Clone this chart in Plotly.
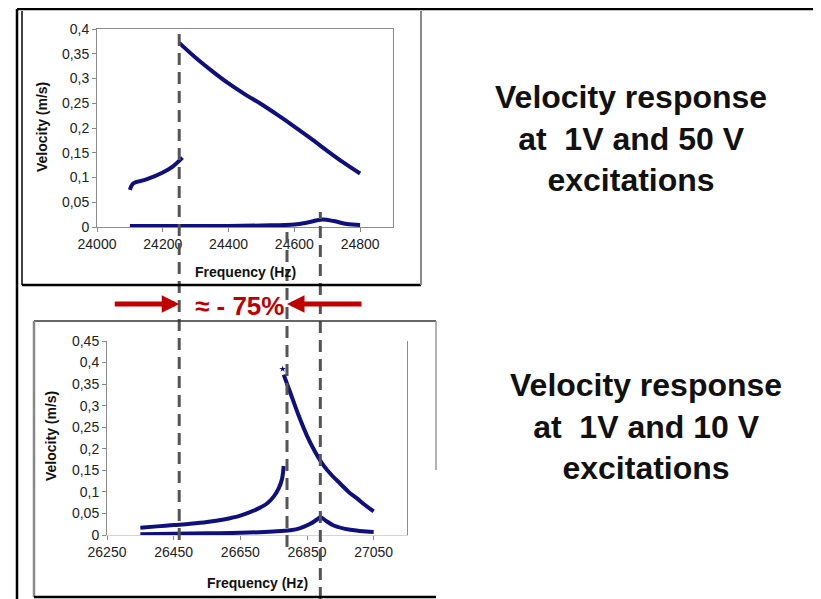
import plotly.graph_objects as go

W, H = 821, 599
OFF = 8  # the page body adds an 8 px margin around the figure
NAVY = "#10107c"
RED = "#c00000"
FONT = "Arial, Liberation Sans, sans-serif"

# top chart: response at 1 V and 50 V (frequency in Hz, velocity in m/s)
F_50V_LOW = [24100, 24110, 24150, 24200, 24230, 24260]
V_50V_LOW = [0.075, 0.088, 0.096, 0.110, 0.122, 0.140]
F_50V_HIGH = [24250, 24300, 24350, 24400, 24450, 24500, 24550, 24600, 24650, 24700, 24750, 24800]
V_50V_HIGH = [0.372, 0.342, 0.315, 0.290, 0.268, 0.248, 0.226, 0.203, 0.179, 0.154, 0.130, 0.108]
F_1V_TOP = [24100, 24200, 24300, 24400, 24500, 24600, 24640, 24685, 24720, 24760, 24800]
V_1V_TOP = [0.002, 0.002, 0.002, 0.002, 0.003, 0.005, 0.009, 0.015, 0.012, 0.006, 0.004]

# bottom chart: response at 1 V and 10 V
F_10V_LOW = [26350, 26400, 26450, 26500, 26550, 26600, 26650, 26700, 26730, 26750, 26765, 26775, 26780]
V_10V_LOW = [0.017, 0.020, 0.023, 0.026, 0.030, 0.036, 0.045, 0.060, 0.073, 0.089, 0.108, 0.130, 0.160]
F_10V_HIGH = [26780, 26800, 26825, 26850, 26875, 26900, 26925, 26950, 26975, 27000, 27025, 27050]
V_10V_HIGH = [0.372, 0.330, 0.277, 0.230, 0.192, 0.161, 0.138, 0.119, 0.100, 0.085, 0.069, 0.055]
F_10V_FIRST = [26777]
V_10V_FIRST = [0.385]
F_1V_BOT = [26350, 26450, 26550, 26650, 26750, 26800, 26830, 26860, 26880, 26890, 26905, 26930, 26980, 27050]
V_1V_BOT = [0.002, 0.003, 0.004, 0.005, 0.008, 0.011, 0.016, 0.026, 0.036, 0.041, 0.034, 0.022, 0.012, 0.007]

TOP_TICKS = [24000, 24200, 24400, 24600, 24800]
BOT_TICKS = [26250, 26450, 26650, 26850, 27050]

# marker frequencies for the dashed guides
TOP_JUMP = 24250
BOT_JUMP = 26790
BOT_PEAK = 26890
SHIFT_TEXT = "≈ - 75%"


def px(x):
    return (x - OFF) / W


def py(y):
    return 1 - (y - OFF) / H


fig = go.Figure()
line = dict(color=NAVY, width=4, shape="spline")
for f, v in [(F_50V_LOW, V_50V_LOW), (F_50V_HIGH, V_50V_HIGH), (F_1V_TOP, V_1V_TOP)]:
    fig.add_trace(go.Scatter(x=f, y=v, mode="lines", line=line, xaxis="x", yaxis="y"))
for f, v in [(F_10V_LOW, V_10V_LOW), (F_10V_HIGH, V_10V_HIGH), (F_1V_BOT, V_1V_BOT)]:
    fig.add_trace(go.Scatter(x=f, y=v, mode="lines", line=line, xaxis="x2", yaxis="y2"))
fig.add_trace(go.Scatter(x=F_10V_FIRST, y=V_10V_FIRST, mode="markers",
                         marker=dict(color=NAVY, size=5, symbol="star"), xaxis="x2", yaxis="y2"))

tick_font = dict(family=FONT, size=14, color="#222")
axis_common = dict(showgrid=False, zeroline=False, ticks="outside", ticklen=4,
                   tickcolor="#888", showline=True, tickfont=tick_font, automargin=False)

fig.update_layout(
    template="none",
    width=W, height=H, margin=dict(l=0, r=0, t=0, b=0, pad=0), autosize=False,
    paper_bgcolor="white", plot_bgcolor="white",
    showlegend=False, separators=", ",
    xaxis=dict(domain=[px(97), px(393)], range=[24000, 24900], tickvals=TOP_TICKS,
               tickformat="d", anchor="y", mirror=True, linecolor="#8c8c8c", **axis_common),
    yaxis=dict(domain=[py(227), py(29)], range=[0, 0.4], dtick=0.05, anchor="x",
               mirror=True, linecolor="#8c8c8c", **axis_common),
    xaxis2=dict(domain=[px(107), px(407)], range=[26250, 27150], tickvals=BOT_TICKS,
                tickformat="d", anchor="y2", linecolor="#d4d4d4", **axis_common),
    yaxis2=dict(domain=[py(535), py(341)], range=[0, 0.45], dtick=0.05, anchor="x2",
                mirror=True, linecolor="#8c8c8c", **axis_common),
)

title_font = dict(family=FONT, size=14, color="#111")
big_font = dict(family=FONT, size=32, color="#111")
annotations = [
    dict(text="<b>Velocity (m/s)</b>", x=px(42), y=py(127), textangle=-90, font=title_font),
    dict(text="<b>Frequency (Hz)</b>", x=px(245), y=py(272), font=title_font),
    dict(text="<b>Velocity (m/s)</b>", x=px(51), y=py(436), textangle=-90, font=title_font),
    dict(text="<b>Frequency (Hz)</b>", x=px(257), y=py(583), font=title_font),
    dict(text="<b>Velocity response<br>at\u00a0 1V and 50 V<br>excitations</b>",
         x=px(631), y=py(138), font=big_font),
    dict(text="<b>Velocity response<br>at\u00a0 1V and 10 V<br>excitations</b>",
         x=px(646), y=py(426), font=big_font),
    dict(text="<b>" + SHIFT_TEXT + "</b>", x=px(239), y=py(306),
         font=dict(family=FONT, size=26, color=RED)),
]
for a in annotations:
    a.update(xref="paper", yref="paper", showarrow=False, xanchor="center", yanchor="middle")

arrow = dict(text="", showarrow=True, arrowhead=2, arrowsize=0.7, arrowwidth=5,
             arrowcolor=RED, yref="paper", y=py(304), ay=0, standoff=0)
annotations.append(dict(arrow, xref="x", x=TOP_JUMP, ax=-66))
annotations.append(dict(arrow, xref="x2", x=BOT_JUMP, ax=76))
fig.update_layout(annotations=annotations)

dash = dict(color="#555", width=3, dash="12px,7px")
shapes = [
    dict(type="line", xref="x", yref="paper", x0=TOP_JUMP, x1=TOP_JUMP, y0=py(540), y1=py(31), line=dash),
    dict(type="line", xref="x2", yref="paper", x0=BOT_JUMP, x1=BOT_JUMP, y0=py(547), y1=py(232), line=dash),
    dict(type="line", xref="x2", yref="paper", x0=BOT_PEAK, x1=BOT_PEAK, y0=py(599), y1=py(212), line=dash),
]


def frame(x0, y0, x1, y1, color, width):
    return dict(type="line", xref="paper", yref="paper", x0=px(x0), y0=py(y0),
                x1=px(x1), y1=py(y1), line=dict(color=color, width=width))


shapes += [
    frame(17, 9, 821, 9, "black", 2.5),
    frame(17, 9, 17, 599, "black", 2.5),
    frame(819, 9, 819, 599, "#999", 2),
    frame(22, 11, 22, 285, "#444", 2),
    frame(22, 285, 421, 285, "black", 2.5),
    frame(421, 11, 421, 285, "#888", 2),
    frame(34, 321, 436, 321, "#333", 1.5),
    frame(34, 321, 34, 597, "#888", 2.5),
    frame(34, 597, 436, 597, "black", 2.5),
    frame(436, 321, 436, 470, "#999", 1.5),
]
fig.update_layout(shapes=shapes)

fig.write_html("out.html")
